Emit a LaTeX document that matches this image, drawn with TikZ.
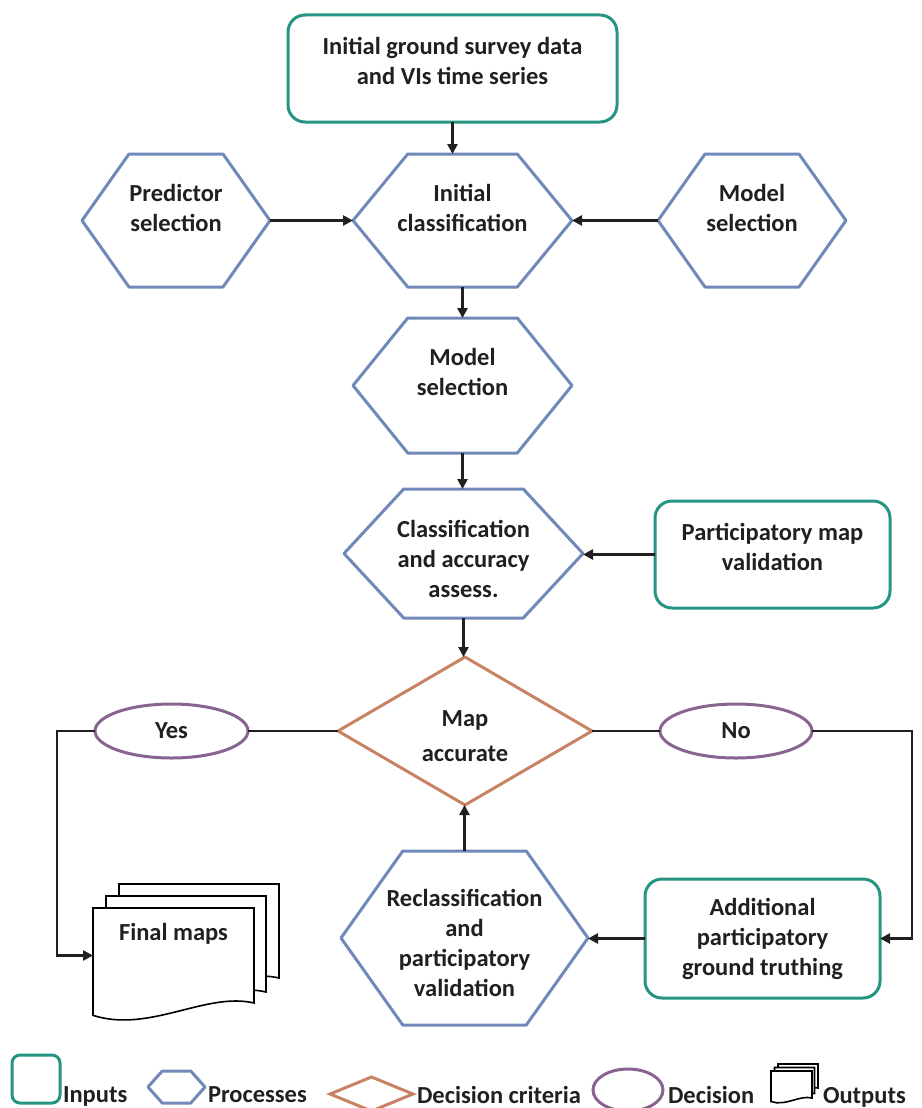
\documentclass[tikz,border=0pt]{standalone}
\usepackage{fontspec}
\setmainfont{Carlito}
\usetikzlibrary{shapes.geometric,arrows.meta,calc}

\definecolor{inputcol}{RGB}{38,148,131}
\definecolor{proccol}{RGB}{112,137,185}
\definecolor{critcol}{RGB}{200,130,100}
\definecolor{deccol}{RGB}{138,100,145}
\definecolor{txtcol}{RGB}{35,31,32}

\tikzset{
  boxtext/.style={inner sep=0pt, outer sep=0pt, align=center, text=txtcol,
    font=\bfseries\fontsize{24.5}{30}\selectfont},
  input/.style={boxtext, draw=inputcol, line width=3pt, rounded corners=17pt},
  proc/.style={boxtext},
  procline/.style={draw=proccol, line width=3pt, line join=round},
  crit/.style={boxtext, diamond, draw=critcol, line width=3pt,
    font=\bfseries\fontsize{24.5}{35}\selectfont},
  dec/.style={boxtext, ellipse, draw=deccol, line width=3pt},
  legtext/.style={boxtext},
  sheet/.style={draw=black, fill=white, line width=1.6pt},
  line/.style={draw=txtcol, line width=2.5pt},
  arr/.style={line, -{Triangle[length=10pt,width=10pt]}}
}

% hexagon: [options], name, centre, width, height, text
\newcommand{\hexnode}[6][]{%
  \node[proc, #1, minimum width=#4, minimum height=#5] (#2) at (#3) {#6};
  \draw[procline] (#2.west) -- ($(#2.north west)!.25!(#2.north east)$)
    -- ($(#2.north west)!.75!(#2.north east)$) -- (#2.east)
    -- ($(#2.south west)!.75!(#2.south east)$)
    -- ($(#2.south west)!.25!(#2.south east)$) -- cycle;}

% one sheet of the output stack: top left x, y, width, height
\newcommand{\mapsheet}[4]{%
  \filldraw[sheet] (#1,#2) -- ({#1+#3},#2) -- ({#1+#3},{#2+#4})
    .. controls ({#1+0.7*#3},{#2+#4-0.12*#4}) and ({#1+0.35*#3},{#2+#4+0.32*#4})
    .. (#1,{#2+#4+0.13*#4}) -- cycle;}

\begin{document}
\begin{tikzpicture}[x=1pt,y=-1pt]
\useasboundingbox (0,0) rectangle (921,1108);

% Inputs
\node[input, text depth=16pt, minimum width=329, minimum height=107] (survey) at (452.5,68.5)
  {Initial ground survey data\\and VIs time series};
\node[input, text depth=16pt, minimum width=235, minimum height=107] (partval) at (772.5,554.5)
  {Participatory map\\validation};
\node[input, minimum width=235, minimum height=119] (addtruth) at (762.5,938.5)
  {Additional\\participatory\\ground truthing};

% Processes
\hexnode[text depth=26pt]{predsel}{176,220.5}{188}{133}{Predictor\\selection}
\hexnode[text depth=26pt]{initclass}{462.5,220.5}{219}{133}{Initial\\classification}
\hexnode[text depth=26pt]{modelsel}{752,220.5}{188}{133}{Model\\selection}
\hexnode[text depth=28pt]{model}{462.5,385.5}{219}{135}{Model\\selection}
\hexnode[text height=88pt]{classacc}{463.5,553.5}{239}{129}{Classification\\and accuracy\\assess.}
\hexnode[text height=118pt]{reclass}{464.5,938}{247}{174}{Reclassification\\and\\participatory\\validation}

% Decision criteria and decisions
\node[crit, text height=61pt, minimum width=254, minimum height=148] (mapacc) at (465,731) {Map\\accurate};
\node[dec, minimum width=153, minimum height=54] (yes) at (171.5,731) {Yes};
\node[dec, minimum width=152, minimum height=54] (no) at (736,731) {No};

% Outputs
\mapsheet{119}{884}{160}{94}
\mapsheet{106}{896}{160}{96}
\mapsheet{93}{908}{161}{95}
\node[inner sep=0pt, outer sep=0pt, minimum width=161, minimum height=95] (maps) at (173.5,955.5) {};
\node[boxtext] (mapstxt) at (173.5,934) {Final maps};

% Connectors
\draw[arr] (survey.south) -- (survey.south |- initclass.north);
\draw[arr] (predsel.east) -- (initclass.west);
\draw[arr] (modelsel.west) -- (initclass.east);
\draw[arr] (initclass.south) -- (model.north);
\draw[arr] (model.south) -- (model.south |- classacc.north);
\draw[arr] (partval.west) -- (partval.west -| classacc.east);
\draw[arr] (classacc.south) -- (classacc.south |- mapacc.north);
\draw[line] (mapacc.west) -- (yes.east);
\draw[line] (mapacc.east) -- (no.west);
\draw[arr] (yes.west) -- ++(-38,0) |- (maps.west);
\draw[arr] (no.east) -- ++(100,0) |- (addtruth.east);
\draw[arr] (addtruth.west) -- (addtruth.west -| reclass.east);
\draw[arr] (reclass.north) -- (reclass.north |- mapacc.south);

% Legend
\node[input, rounded corners=8pt, minimum width=48, minimum height=48] (leginput) at (36,1079) {};
\node[legtext, anchor=base west] (leginputtxt) at (63,1102) {Inputs};
\hexnode{legproc}{176.5,1087}{57}{32}{}
\node[legtext, anchor=base west] (legproctxt) at (208,1102) {Processes};
\node[crit, minimum width=83, minimum height=34] (legcrit) at (371.5,1094) {};
\node[legtext, anchor=base west] (legcrittxt) at (417,1103) {Decision criteria};
\node[dec, minimum width=70, minimum height=42] (legdec) at (628,1090) {};
\node[legtext, anchor=base west] (legdectxt) at (668,1103) {Decision};
\mapsheet{778}{1064}{40}{24}
\mapsheet{774.5}{1067.5}{40}{26}
\mapsheet{771}{1071}{41}{27}
\node[legtext, anchor=base west] (legouttxt) at (823,1103) {Outputs};
\end{tikzpicture}
\end{document}
